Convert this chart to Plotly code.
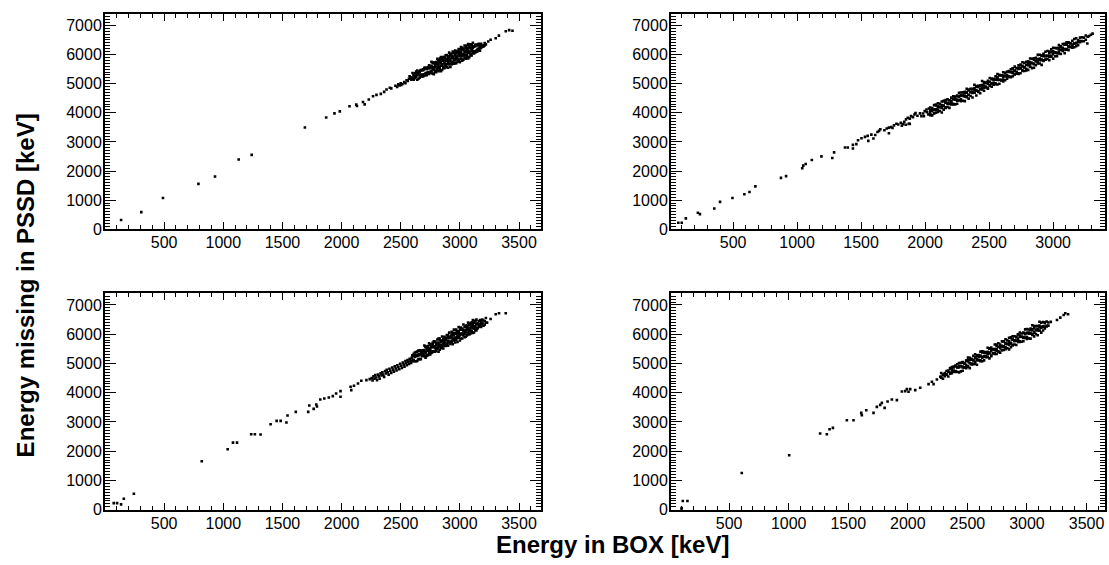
import plotly.graph_objects as go

# ================= data =================
# Each panel: isolated points (x, y) plus the dense band given as
# columns (x, [y values seen in that column]).

# ---- Top-left panel ----
p1_pts = [
    (136,320),(307,590),(490,1075),(790,1560),(930,1815),(1130,2395),(1240,2555),(1690,3495),
    (1870,3840),(1940,3980),(1985,4050),(2067,4225),(2124,4280),(2130,4235),(2181,4370),(2195,4290),
    (2230,4455),(2266,4570),(2295,4615),(2332,4650),(2360,4720),(2380,4800),(2408,4860),(2420,4840),
    (2455,4930),(2470,4890),(2480,4975),(2490,4940),(2500,5010),(2505,4960),(2515,4990),(2530,5060),
    (2540,5020),(2550,5120),(2560,5090),(2570,5170),(2575,5250),(2585,5210),(2590,5140),
    (3240,6450),(3260,6510),(3303,6560),(3330,6650),(3388,6800),(3417,6840),(3445,6815),
]
p1_cols = [
    (2600,[5160,5210,5365]),(2610,[5135,5290,5300]),(2620,[5185,5250,5355]),(2630,[5230,5270,5415]),
    (2640,[5135,5305,5345,5450]),(2650,[5170,5360,5375]),(2660,[5205,5280,5425,5405]),
    (2670,[5260,5310,5465,5455]),(2680,[5250,5300,5465]),(2690,[5250,5315,5460,5490]),
    (2700,[5285,5325,5495,5545]),(2710,[5300,5360,5540,5545]),(2720,[5295,5370,5525,5505]),
    (2730,[5340,5400,5555,5565]),(2740,[5330,5360,5525,5590,5635]),(2750,[5380,5410,5545,5585]),
    (2760,[5385,5445,5580,5610,5750]),(2770,[5345,5485,5560,5715]),(2780,[5325,5500,5560,5725,5705]),
    (2790,[5410,5450,5635,5700]),(2800,[5395,5560,5590,5725,5745]),(2810,[5465,5535,5660,5700,5850]),
    (2820,[5425,5565,5640,5805,5775]),(2830,[5490,5550,5725,5735,5860]),(2840,[5430,5615,5700,5775,5910]),
    (2850,[5470,5625,5665,5845,5885]),(2860,[5540,5590,5790,5805,5915]),(2870,[5530,5705,5695,5880,5910]),
    (2880,[5605,5635,5780,5820,5975]),(2890,[5570,5665,5830,5850,5985]),(2900,[5545,5735,5805,5920,5950]),
    (2910,[5660,5695,5835,5910,6065]),(2920,[5575,5770,5830,5985,5995]),(2930,[5660,5710,5885,5960,6035]),
    (2940,[5710,5750,5895,5935,6105]),(2950,[5685,5820,5860,6050,6065]),(2960,[5705,5800,5975,5965,6140]),
    (2970,[5700,5875,5905,6050,6080]),(2980,[5765,5850,5945,6100,6120]),(2990,[5775,5825,6015,6075,6190]),
    (3000,[5740,5940,5975,6105,6180]),(3010,[5855,5850,6040,6090,6255]),(3020,[5785,5940,5990,6155,6230]),
    (3030,[5825,5990,6020,6165,6205]),(3040,[5895,5965,6090,6130,6310]),(3050,[5855,5995,6080,6245,6225]),
    (3060,[5930,5990,6155,6175,6310]),(3070,[5870,6055,6130,6215,6360]),(3080,[5910,6065,6105,6285,6335]),
    (3090,[5980,6030,6220,6235,6355]),(3100,[5970,6145,6135,6310,6350]),(3110,[6055,6075,6220,6250,6405]),
    (3120,[6040,6115,6270,6290]),(3130,[6075,6115,6285,6335]),(3140,[6100,6140,6320,6335]),
    (3150,[6115,6190,6345,6315]),(3160,[6170,6210,6365]),(3170,[6135,6260,6290]),(3180,[6225,6290,6365]),
    (3190,[6270,6290]),(3200,[6275,6315]),(3210,[6315,6395]),(3220,[6350]),
]

# ---- Top-right panel ----
p2_pts = [
    (72,227),(99,227),(131,374),(225,567),(241,521),(353,714),(398,940),(495,1076),(588,1201),
    (628,1280),(674,1473),(874,1767),(914,1824),(1040,2096),(1048,2187),(1067,2243),(1115,2379),
    (1190,2504),(1275,2447),(1289,2640),(1374,2810),(1396,2810),(1436,2776),(1436,2900),(1463,2923),
    (1476,3059),(1503,3127),(1530,3172),(1551,3206),(1556,3036),(1596,3116),(1610,3240),(1628,3342),
    (1650,3433),(1682,3399),(1717,3297),(1717,3490),(1735,3512),(1757,3569),(1776,3626),(1810,3660),
    (1818,3558),(1837,3694),(1851,3773),(1864,3830),(1872,3626),(1890,3886),(1917,3943),(1971,3886),
    (1984,3977),(1997,4056),(2011,4113),(2030,4147),(2038,4000),
    (1580,3250),(1640,3380),(1700,3460),(1745,3480),(1790,3600),(1830,3610),(1880,3800),(1905,3850),
    (1940,3900),(1960,3980),(1925,3990),(1880,3620),(1850,3590),(1990,3880),(2015,4020),(2025,3940),
    (3267,6379),(3281,6639),(3295,6680),(3308,6719),
]
p2_cols = [
    (2040,[3920,3950,4085,4075,4180]),(2055,[3910,4065,4110,4165]),(2070,[3980,3990,4105,4115,4265]),
    (2085,[4005,4110,4120,4280,4255]),(2100,[4025,4090,4225,4185,4330]),(2115,[4060,4205,4195,4310]),
    (2130,[4010,4165,4210,4265,4390]),(2145,[4110,4235,4245,4395,4410]),(2160,[4170,4190,4350,4345,4435]),
    (2175,[4200,4345,4305,4460]),(2190,[4170,4315,4305,4420,4430]),(2205,[4285,4340,4395,4520,4500]),
    (2220,[4285,4305,4455,4485,4570]),(2235,[4290,4460,4455,4555]),(2250,[4310,4455,4415,4570,4590]),
    (2265,[4435,4430,4550,4560,4685]),(2280,[4400,4465,4590,4600,4695]),(2295,[4415,4575,4605,4700]),
    (2310,[4400,4570,4565,4665,4720]),(2325,[4565,4535,4690,4710,4825]),(2340,[4485,4610,4620,4765,4800]),
    (2355,[4575,4710,4720,4825]),(2370,[4525,4685,4715,4810,4820]),(2385,[4690,4695,4795,4850,4965]),
    (2400,[4595,4760,4780,4915,4895]),(2415,[4720,4740,4885,4930]),(2430,[4675,4810,4820,4925,4935]),
    (2445,[4805,4845,4940,4950,5090]),(2460,[4755,4865,4920,5055,5005]),(2475,[4870,4900,5035,5025]),
    (2490,[4830,4850,4995,5040,5095]),(2505,[4930,4940,5055,5065,5195]),(2520,[4895,5000,5010,5170,5155]),
    (2535,[4965,5030,5165,5125]),(2550,[4980,5010,5145,5135,5250]),(2565,[4970,5125,5170,5225,5330]),
    (2580,[5000,5125,5135,5285,5305]),(2595,[5110,5130,5290,5285]),(2610,[5075,5140,5275,5235,5390]),
    (2625,[5120,5265,5255,5370,5360]),(2640,[5175,5230,5285,5410,5400]),(2655,[5235,5255,5405,5435]),
    (2670,[5220,5240,5400,5395,5495]),(2685,[5260,5405,5365,5520,5530]),(2700,[5325,5320,5440,5450,5585]),
    (2715,[5340,5405,5530,5540]),(2730,[5335,5355,5505,5535,5630]),(2745,[5360,5530,5525,5625,5660]),
    (2760,[5465,5435,5590,5610,5735]),(2775,[5435,5560,5570,5715]),(2790,[5450,5515,5640,5650,5755]),
    (2805,[5475,5635,5665,5760,5750]),(2820,[5580,5585,5685,5740,5865]),(2835,[5535,5700,5720,5855]),
    (2850,[5545,5670,5680,5825,5870]),(2865,[5635,5770,5780,5885,5875]),(2880,[5695,5735,5830,5840,5990]),
    (2895,[5695,5805,5860,5995]),(2910,[5645,5810,5830,5965,5955]),(2925,[5780,5800,5945,5990,6025]),
    (2940,[5820,5830,5945,5955,6095]),(2955,[5845,5950,5960,6120]),(2970,[5805,5915,5970,6105,6065]),
    (2985,[5930,5960,6095,6085,6180]),(3000,[5860,6015,6060,6115,6230]),(3015,[5940,6065,6075,6225]),
    (3030,[5945,6050,6060,6220,6215]),(3045,[6035,6100,6235,6195,6330]),(3060,[6020,6165,6155,6270,6280]),
    (3075,[6125,6180,6235,6360]),(3090,[6050,6175,6185,6335,6365]),(3105,[6170,6190,6350,6345,6425]),
    (3120,[6150,6295,6255,6410,6420]),(3135,[6265,6260,6380,6390]),(3150,[6235,6290,6345,6470]),
    (3165,[6250,6375,6385,6535]),(3180,[6285,6390,6400,6560]),(3195,[6325,6435,6490]),
    (3210,[6465,6425,6580]),(3225,[6460,6595]),(3240,[6455,6580]),(3255,[6510,6655]),(3270,[6610]),
]

# ---- Bottom-left panel ----
p3_pts = [
    (74,228),(102,228),(136,183),(159,377),(244,548),(818,1656),(1037,2067),(1082,2295),(1116,2295),
    (1236,2581),(1267,2581),(1315,2570),(1400,2924),(1451,3038),(1485,3038),(1534,2981),(1543,3220),
    (1613,3346),(1718,3346),(1727,3563),(1764,3449),(1786,3597),(1792,3529),(1820,3769),(1854,3803),
    (1892,3837),(1926,3883),(1991,3860),(1991,4054),(1954,3974),(2082,4088),(2076,4203),(2105,4237),
    (2139,4317),(2167,4408),(2210,4431),(2238,4465),
    (2255,4500),(2262,4420),(2270,4560),(2278,4480),(2285,4600),(2292,4520),(2300,4430),(2308,4620),
    (2315,4560),(2322,4480),(2330,4660),(2338,4590),(2345,4700),(2352,4620),(2360,4540),(2368,4740),
    (2375,4660),(2382,4780),(2390,4700),(2398,4620),(2405,4820),(2412,4750),(2420,4680),(2428,4860),
    (2435,4790),(2442,4720),(2450,4900),(2458,4830),(2465,4760),(2472,4940),(2480,4870),(2488,4800),
    (2495,4990),(2502,4920),(2510,4850),(2518,5030),(2525,4960),(2532,4890),(2540,5080),(2546,5010),
    (2552,4940),(2558,5120),(2564,5050),(2570,4980),(2576,5160),(2582,5090),(2588,5020),(2594,5200),
    (3260,6520),(3303,6680),(3331,6715),(3388,6715),
]
p3_cols = [
    (2600,[5075,5115,5270,5280]),(2610,[5090,5120,5275,5330]),(2620,[5075,5220,5240,5375]),
    (2630,[5075,5245,5285,5390]),(2640,[5090,5270,5285,5405]),(2650,[5150,5305,5275,5440]),
    (2660,[5150,5305,5315,5450]),(2670,[5150,5315,5370,5435]),(2680,[5250,5270,5405,5435]),
    (2690,[5275,5325,5430,5450]),(2700,[5250,5265,5385,5460,5615]),(2710,[5195,5370,5410,5565,5575]),
    (2720,[5260,5290,5455,5520]),(2730,[5285,5430,5450,5585,5595]),(2740,[5315,5365,5480,5510,5690]),
    (2750,[5305,5425,5500,5655,5635]),(2760,[5360,5400,5555,5565]),(2770,[5390,5420,5585,5650,5705]),
    (2780,[5400,5420,5555,5585,5755]),(2790,[5405,5520,5550,5730,5745]),(2800,[5425,5500,5655,5635]),
    (2810,[5500,5540,5695,5705,5820]),(2820,[5400,5565,5630,5705,5850]),(2830,[5470,5605,5635,5805,5855]),
    (2840,[5520,5550,5730,5745]),(2850,[5555,5630,5785,5765,5920]),(2860,[5510,5665,5675,5810,5840]),
    (2870,[5605,5670,5745,5890,5910]),(2880,[5595,5625,5795,5845]),(2890,[5650,5680,5860,5875,5975]),
    (2900,[5610,5765,5745,5920,5960]),(2910,[5715,5725,5860,5890,6055]),(2920,[5670,5745,5890,5910]),
    (2930,[5735,5765,5935,5985,6080]),(2940,[5660,5840,5855,5975,6050]),(2950,[5805,5785,5960,6000,6155]),
    (2960,[5715,5850,5880,6045]),(2970,[5800,5875,6020,6040,6155]),(2980,[5735,5905,5955,6070,6100]),
    (2990,[5880,5895,6015,6090,6245]),(3000,[5785,5960,6000,6155]),(3010,[5855,5990,6020,6185,6230]),
    (3020,[5855,6000,6020,6155,6185]),(3030,[5955,6005,6120,6150,6330]),(3040,[5895,6015,6090,6245]),
    (3050,[5915,6090,6130,6285,6275]),(3060,[5960,5990,6155,6220,6295]),(3070,[6040,6060,6195,6225,6395]),
    (3080,[5995,6110,6140,6320]),(3090,[6025,6145,6220,6375,6335]),(3100,[6070,6110,6265,6275,6410]),
    (3110,[6040,6205,6270,6345,6480]),(3120,[6060,6195,6225,6395]),(3130,[6135,6250,6280,6460,6445]),
    (3140,[6125,6200,6355,6335,6500]),(3150,[6200,6355,6365]),(3160,[6250,6280,6445]),
    (3170,[6260,6335,6480]),(3180,[6250,6385,6415]),(3190,[6335,6385,6500]),(3200,[6290,6470]),
    (3210,[6325,6445]),(3220,[6390,6555]),(3230,[6395]),
]

# ---- Bottom-right panel ----
p4_pts = [
    (102,57),(111,297),(150,297),(100,20),(606,1256),(1004,1861),(1264,2604),(1320,2581),(1343,2752),
    (1371,2798),(1488,3061),(1544,3061),(1614,3232),(1609,3312),(1651,3403),(1712,3312),(1740,3517),
    (1768,3586),(1782,3654),(1805,3483),(1830,3700),(1866,3769),(1908,3746),(1950,4043),(1978,4054),
    (1992,4123),(2006,4031),(2020,4123),(2062,4088),(2104,4168),(2174,4294),(2202,4374),(2216,4294),
    (2244,4454),(2272,4545),
    (3200,6420),(3252,6487),(3280,6567),(3308,6658),(3322,6715),(3345,6680),
]
p4_cols = [
    (2280,[4510,4540,4675]),(2295,[4475,4610,4625]),(2310,[4565,4620,4675]),(2325,[4610,4630,4745]),
    (2340,[4555,4715,4755]),(2355,[4650,4680,4840,4825]),(2370,[4665,4730,4875,4815]),
    (2385,[4720,4760,4895,4865]),(2400,[4710,4740,4895,4930]),(2415,[4715,4860,4870,4975]),
    (2430,[4695,4865,4905,5010]),(2445,[4730,4910,4915,5025]),(2460,[4750,4895,4865,5030,5050]),
    (2475,[4865,4860,4990,5010]),(2490,[4835,4890,4955,5090,5100]),(2505,[4885,4905,5065,5105,5200]),
    (2520,[4840,5010,5015,5125,5190]),(2535,[4995,4965,5130,5160]),(2550,[4975,4985,5100,5120,5265]),
    (2565,[4990,5055,5190,5200,5315]),(2580,[4955,5115,5155,5260,5280]),(2595,[5110,5115,5225,5290]),
    (2610,[5105,5075,5240,5270,5405]),(2625,[5075,5200,5220,5375,5420]),(2640,[5105,5240,5250,5375,5395]),
    (2655,[5215,5255,5360,5380]),(2670,[5220,5225,5335,5400,5535]),(2685,[5175,5340,5370,5515,5505]),
    (2700,[5250,5270,5425,5480,5545]),(2715,[5340,5350,5475,5495]),(2730,[5325,5365,5470,5490,5650]),
    (2745,[5325,5435,5500,5645,5605]),(2760,[5390,5420,5565,5570,5690]),(2775,[5370,5525,5580,5645]),
    (2790,[5450,5460,5585,5605,5755]),(2805,[5465,5570,5590,5760,5755]),(2820,[5485,5550,5695,5665,5830]),
    (2835,[5520,5665,5670,5790]),(2850,[5480,5635,5690,5755,5880]),(2865,[5560,5685,5705,5865,5895]),
    (2880,[5620,5640,5810,5815,5925]),(2895,[5650,5795,5765,5930]),(2910,[5630,5775,5780,5900,5910]),
    (2925,[5735,5790,5855,5990,6000]),(2940,[5735,5755,5915,5955,6060]),(2955,[5740,5910,5915,6025]),
    (2970,[5760,5905,5875,6040,6060]),(2985,[5875,5880,6000,6020,6165]),(3000,[5840,5905,6040,6050,6175]),
    (3015,[5855,6015,6055,6160]),(3030,[5850,6020,6025,6135,6190]),(3045,[6005,5975,6140,6170,6305]),
    (3060,[5925,6050,6070,6225,6280]),(3075,[6005,6140,6150,6275]),(3090,[5965,6125,6165,6270,6280]),
    (3105,[6120,6125,6235,6300,6425]),(3120,[6055,6220,6250,6395]),(3135,[6125,6250,6270,6415]),
    (3150,[6200,6265,6400,6380]),(3165,[6265,6285,6435]),(3180,[6295,6400]),
]

x_ranges = [[0, 3686], [15, 3405], [0, 3686], [12, 3655]]
x_tickvals = [[500, 1000, 1500, 2000, 2500, 3000, 3500],
              [500, 1000, 1500, 2000, 2500, 3000],
              [500, 1000, 1500, 2000, 2500, 3000, 3500],
              [500, 1000, 1500, 2000, 2500, 3000, 3500]]
y_range = [0, 7400]
y_tickvals = [0, 1000, 2000, 3000, 4000, 5000, 6000, 7000]
x_title = "Energy in BOX [keV]"
y_title = "Energy missing in PSSD [keV]"

# ================= figure =================
W, H = 1109, 565
doms_x = [[105 / W, 541 / W], [671 / W, 1105 / W], [105 / W, 541 / W], [671 / W, 1105 / W]]
top_y = [1 - 233 / H, 1 - 14 / H]
bot_y = [1 - 518 / H, 1 - 298 / H]
doms_y = [top_y, top_y, bot_y, bot_y]

font_family = "Liberation Sans, Arial, Helvetica, sans-serif"
fig = go.Figure()

panels = [(p1_pts, p1_cols), (p2_pts, p2_cols), (p3_pts, p3_cols), (p4_pts, p4_cols)]
for i, (pts, cols) in enumerate(panels):
    n = "" if i == 0 else str(i + 1)
    xs = [p[0] for p in pts]
    ys = [p[1] for p in pts]
    for cx, cys in cols:
        for cy in cys:
            xs.append(cx)
            ys.append(cy)
    fig.add_trace(go.Scatter(
        x=xs, y=ys, mode="markers",
        marker=dict(symbol="square", size=2.6, color="black", line=dict(width=0)),
        xaxis="x" + n, yaxis="y" + n, showlegend=False, hoverinfo="x+y",
    ))
    common = dict(
        showline=True, linecolor="black", linewidth=2, mirror="ticks",
        ticks="inside", tickcolor="black", tickwidth=1.2,
        showgrid=False, zeroline=False, ticklabelstandoff=-2,
        tickfont=dict(family=font_family, size=16, color="black"),
    )
    fig.update_layout(**{
        "xaxis" + n: dict(domain=doms_x[i], anchor="y" + n, range=x_ranges[i],
                          tickmode="array", tickvals=x_tickvals[i], ticklen=7,
                          minor=dict(dtick=100, tick0=0, ticks="inside", ticklen=4,
                                     tickwidth=1, tickcolor="black"),
                          **common),
        "yaxis" + n: dict(domain=doms_y[i], anchor="x" + n, range=y_range,
                          tickmode="array", tickvals=y_tickvals, ticklen=11,
                          minor=dict(dtick=100, tick0=0, ticks="inside", ticklen=5,
                                     tickwidth=1, tickcolor="black"),
                          **common),
    })

fig.add_annotation(text="<b>" + x_title + "</b>", xref="paper", yref="paper",
                   x=612 / W, y=1 - 553 / H, xanchor="center", yanchor="middle",
                   showarrow=False, font=dict(family=font_family, size=24, color="black"))
fig.add_annotation(text="<b>" + y_title + "</b>", xref="paper", yref="paper",
                   x=25 / W, y=1 - 290 / H, xanchor="center", yanchor="middle",
                   textangle=-90, showarrow=False,
                   font=dict(family=font_family, size=24, color="black"))

fig.update_layout(width=W, height=H, margin=dict(l=0, r=0, t=0, b=0),
                  paper_bgcolor="white", plot_bgcolor="white")

fig.write_html("out.html")
